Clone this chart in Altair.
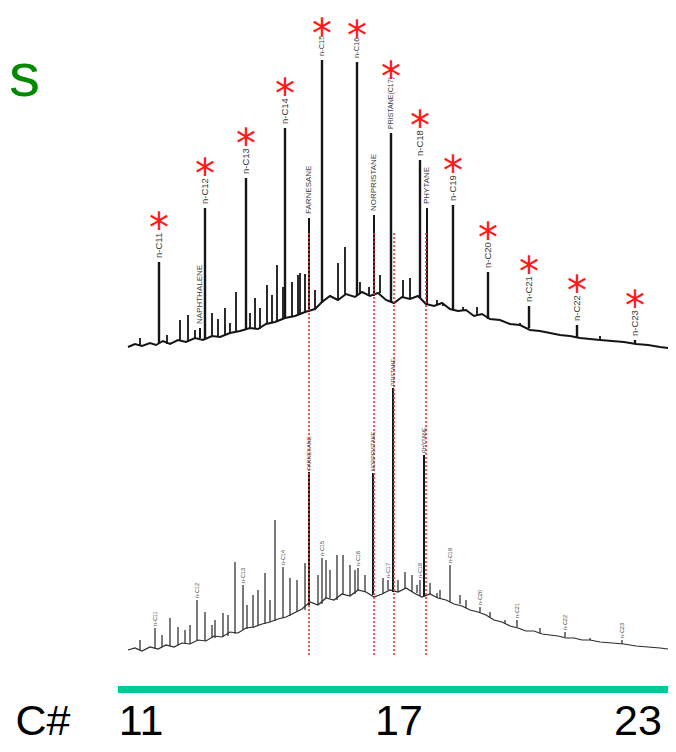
import altair as alt
import pandas as pd

# ---------------- data: retention time (min) and detector response (counts) ----------------
# upper chromatogram (fresh oil) - baseline/hump
top_base_rt = [12.0, 12.7, 13.4, 14.2, 14.8, 15.5, 16.2, 17.0, 17.8, 18.7, 19.5, 20.4, 21.2, 22.2,
               23.2, 24.2, 25.0, 25.8, 26.7, 27.7, 28.7, 29.7, 30.7, 31.4, 32.2, 33.0, 33.8, 34.7,
               35.4, 36.2, 37.0, 37.8, 38.6, 39.4, 40.2, 41.0, 41.8, 42.6, 43.4, 44.2, 45.0, 45.8,
               46.6, 47.4, 48.2, 49.2, 50.2, 51.2, 52.2, 53.2, 54.2, 55.2, 56.2, 57.2, 58.2, 59.2,
               60.4, 61.6, 62.8, 64.0, 65.2, 66.0]
top_base_resp = [397, 400, 398, 401, 399, 403, 400, 404, 402, 406, 404, 408, 407, 411,
                 413, 416, 415, 420, 422, 426, 428, 432, 435, 442, 448, 444, 450, 447,
                 452, 448, 451, 444, 441, 447, 445, 448, 440, 438, 441, 435, 433, 434,
                 428, 430, 425, 424, 420, 419, 414, 413, 411, 409, 408, 406, 405, 404,
                 403, 402, 400, 399, 397, 396]

# upper chromatogram - n-alkanes (starred)
top_alk_labels = ["n-C11", "n-C12", "n-C13", "n-C14", "n-C15", "n-C16", "PRISTANE(C17)",
                  "n-C18", "n-C19", "n-C20", "n-C21", "n-C22", "n-C23"]
top_alk_rt = [15.1, 19.7, 23.8, 27.7, 31.4, 34.9, 38.3, 41.2, 44.5, 48.0, 52.1, 56.9, 62.7]
top_alk_apex = [482, 536, 566, 616, 684, 682, 611, 584, 539, 472, 438, 419, 404]
top_alk_foot = [401, 405, 414, 426, 441, 448, 442, 446, 435, 425, 416, 406, 400]

# upper chromatogram - isoprenoids / aromatics
top_iso_labels = ["NAPHTHALENE", "FARNESANE", "NORPRISTANE", "PHYTANE"]
top_iso_rt = [19.2, 30.1, 36.6, 41.9]
top_iso_apex = [416, 526, 529, 536]
top_iso_foot = [406, 432, 448, 440]

# upper chromatogram - unlabelled peaks
top_minor_rt = [13.2, 15.9, 17.2, 18.0, 18.7, 20.4, 21.0, 21.7, 22.2, 22.8, 24.2, 24.7,
                25.2, 25.9, 26.4, 26.9, 27.5, 28.4, 29.0, 29.2, 29.7, 30.7, 33.0, 33.7,
                35.2, 36.1, 37.2, 39.5, 40.2, 42.9, 43.5, 45.5, 46.9, 51.2, 53.9, 59.2]
top_minor_apex = [406, 409, 424, 429, 414, 431, 425, 436, 421, 452, 431, 446,
                  436, 459, 449, 479, 457, 462, 469, 471, 470, 454, 481, 497,
                  462, 457, 469, 464, 466, 444, 440, 437, 437, 421, 412, 408]
top_minor_foot = [398, 400, 403, 402, 406, 408, 407, 409, 411, 412, 416, 416,
                  415, 420, 421, 422, 425, 427, 429, 430, 431, 435, 444, 450,
                  450, 448, 451, 447, 445, 440, 438, 433, 429, 419, 412, 404]

# lower chromatogram (weathered oil) - baseline/hump
bot_base_rt = [12.0, 12.7, 13.4, 14.2, 15.0, 15.8, 16.6, 17.4, 18.2, 19.0, 19.8, 20.6, 21.4,
               22.2, 23.0, 23.8, 24.6, 25.4, 26.2, 27.0, 27.8, 28.6, 29.4, 30.2, 31.0, 31.8,
               32.6, 33.4, 34.2, 35.0, 35.8, 36.6, 37.4, 38.2, 39.0, 39.8, 40.6, 41.4, 42.2,
               43.0, 43.8, 44.6, 45.4, 46.2, 47.0, 47.8, 48.6, 49.4, 50.2, 51.0, 51.8, 52.6,
               53.4, 54.2, 55.0, 55.8, 56.6, 57.4, 58.2, 59.2, 60.4, 61.6, 62.8, 64.0, 65.2, 66.0]
bot_base_resp = [94, 96, 93, 97, 95, 99, 97, 101, 100, 104, 103, 108, 107,
                 112, 111, 116, 117, 120, 122, 125, 127, 131, 135, 142, 139, 146,
                 144, 150, 148, 154, 152, 147, 150, 154, 152, 156, 151, 147, 150,
                 146, 144, 140, 138, 134, 132, 129, 124, 122, 118, 116, 113, 113,
                 110, 109, 108, 106, 106, 104, 104, 102, 101, 100, 98, 97, 96, 95]

# lower chromatogram - labelled n-alkanes
bot_alk_labels = ["n-C11", "n-C12", "n-C13", "n-C14", "n-C15", "n-C16", "n-C17",
                  "n-C18", "n-C19", "n-C20", "n-C21", "n-C22", "n-C23"]
bot_alk_rt = [14.7, 18.9, 23.5, 27.5, 31.4, 35.0, 38.0, 41.2, 44.2, 47.2, 50.9, 55.7, 61.4]
bot_alk_apex = [116, 144, 159, 177, 186, 176, 164, 164, 179, 137, 124, 112, 104]
bot_alk_foot = [96, 103, 114, 126, 140, 154, 154, 148, 142, 132, 117, 107, 100]

# lower chromatogram - isoprenoids
bot_iso_labels = ["FARNESANE", "NORPRISTANE", "PRISTANE", "PHYTANE"]
bot_iso_rt = [30.1, 36.5, 38.5, 41.6]
bot_iso_apex = [272, 271, 356, 289]
bot_iso_foot = [139, 149, 152, 148]

# lower chromatogram - unlabelled peaks
bot_minor_rt = [13.2, 15.4, 16.2, 17.0, 17.7, 18.2, 19.7, 20.4, 20.7, 21.5, 22.0, 22.7, 23.9,
                24.5, 25.0, 25.7, 26.2, 26.7, 28.2, 28.9, 29.7, 31.0, 31.8, 32.2, 32.9, 33.5,
                34.2, 34.7, 35.7, 37.5, 39.0, 39.7, 40.4, 40.9, 42.2, 42.9, 43.2, 45.2, 45.8,
                48.2, 49.7, 53.2, 58.2]
bot_minor_apex = [104, 109, 126, 117, 114, 119, 132, 119, 124, 131, 129, 182, 139,
                  149, 154, 171, 144, 224, 166, 164, 181, 169, 184, 174, 189, 189,
                  179, 174, 169, 166, 164, 172, 169, 159, 161, 151, 154, 149, 144,
                  132, 124, 116, 106]
bot_minor_foot = [94, 97, 98, 99, 100, 100, 103, 106, 106, 107, 108, 110, 115,
                  116, 118, 120, 122, 123, 128, 132, 134, 139, 146, 146, 144, 149,
                  148, 150, 152, 150, 152, 156, 152, 151, 150, 146, 146, 140, 136,
                  127, 121, 111, 104]

# red correlation markers (isoprenoids)
marker_rt = [30.1, 36.6, 38.6, 41.8]
marker_top = [511, 511, 511, 511]
marker_bottom = [89, 89, 89, 89]

# carbon-number scale bar and its labels
cn_bar_start, cn_bar_end = 11.0, 66.0
cn_bar_lo, cn_bar_hi = 51, 58
cn_labels = ["C#", "11", "17", "23"]
cn_rt = [3.5, 13.3, 39.1, 63.0]
cn_resp = [0, 0, 0, 0]

# title fragment at the top-left edge
title_text = ["s"]
title_rt = [0.0]
title_resp = [648]

# ---------------- chart ----------------
W, H = 660, 736
xs = alt.Scale(domain=[0, 66], nice=False, zero=False)
ys = alt.Scale(domain=[0, 736], nice=False, zero=False)


def X(f="rt"):
    return alt.X(f"{f}:Q", scale=xs, axis=None)


def Y(f):
    return alt.Y(f"{f}:Q", scale=ys, axis=None)


def peaks_df(rt, apex, foot, labels=None):
    d = pd.DataFrame({"rt": rt, "apex": apex, "foot": foot})
    if labels is not None:
        d["label"] = labels
    return d


INK = "#151515"
RED = "#e8332c"
LABEL_FONT = "Liberation Sans"

layers = []

# traces
top_base = pd.DataFrame({"rt": top_base_rt, "resp": top_base_resp})
bot_base = pd.DataFrame({"rt": bot_base_rt, "resp": bot_base_resp})
layers.append(alt.Chart(top_base).mark_line(color=INK, strokeWidth=2.0).encode(x=X(), y=Y("resp")))
layers.append(alt.Chart(bot_base).mark_line(color="#2a2a2a", strokeWidth=1.2).encode(x=X(), y=Y("resp")))

top_alk = peaks_df(top_alk_rt, top_alk_apex, top_alk_foot, top_alk_labels)
top_iso = peaks_df(top_iso_rt, top_iso_apex, top_iso_foot, top_iso_labels)
top_min = peaks_df(top_minor_rt, top_minor_apex, top_minor_foot)
bot_alk = peaks_df(bot_alk_rt, bot_alk_apex, bot_alk_foot, bot_alk_labels)
bot_iso = peaks_df(bot_iso_rt, bot_iso_apex, bot_iso_foot, bot_iso_labels)
bot_min = peaks_df(bot_minor_rt, bot_minor_apex, bot_minor_foot)

for df, w, c in [(top_min, 1.8, INK), (top_alk, 2.4, INK), (top_iso, 2.0, INK),
                 (bot_min, 1.3, "#333333"), (bot_alk, 1.3, "#333333"), (bot_iso, 2.0, INK)]:
    layers.append(alt.Chart(df).mark_rule(color=c, strokeWidth=w).encode(
        x=X(), y=Y("foot"), y2=alt.Y2("apex")))

# red dotted correlation lines
markers = pd.DataFrame({"rt": marker_rt, "top": marker_top, "bottom": marker_bottom})
layers.append(alt.Chart(markers).mark_rule(color=RED, strokeWidth=1.6, strokeDash=[2, 2]).encode(
    x=X(), y=Y("top"), y2=alt.Y2("bottom")))

# rotated peak labels (upper trace: label size groups)
label_groups = [
    ([l for l in top_alk_labels if l not in ("n-C15", "n-C16", "PRISTANE(C17)")], 9.5),
    (["n-C15", "n-C16"], 7.5),
    (["PRISTANE(C17)"], 7),
]
for names, fs in label_groups:
    sub = top_alk[top_alk["label"].isin(names)]
    layers.append(alt.Chart(sub).mark_text(angle=270, align="left", baseline="middle", dx=4,
                                           font=LABEL_FONT, fontSize=fs, color="#3a3a3a").encode(
        x=X(), y=Y("apex"), text="label:N"))
layers.append(alt.Chart(top_iso).mark_text(angle=270, align="left", baseline="middle", dx=4,
                                           font=LABEL_FONT, fontSize=8, color="#3a3a3a").encode(
    x=X(), y=Y("apex"), text="label:N"))
layers.append(alt.Chart(bot_alk).mark_text(angle=270, align="left", baseline="middle", dx=2,
                                           font=LABEL_FONT, fontSize=5.5, color="#444444").encode(
    x=X(), y=Y("apex"), text="label:N"))
layers.append(alt.Chart(bot_iso).mark_text(angle=270, align="left", baseline="middle", dx=2,
                                           font=LABEL_FONT, fontSize=5.5, color="#444444").encode(
    x=X(), y=Y("apex"), text="label:N"))

# red asterisks above the n-alkanes (lift depends on label length)
star_groups = [
    (["n-C15", "n-C16"], -36),
    (["PRISTANE(C17)"], -66),
    ([l for l in top_alk_labels if l not in ("n-C15", "n-C16", "PRISTANE(C17)")], -44),
]
for names, lift in star_groups:
    sub = top_alk[top_alk["label"].isin(names)]
    layers.append(alt.Chart(sub).mark_text(text="*", font="DejaVu Sans", fontSize=40, color="#ff1a1a",
                                           align="center", baseline="middle", dy=lift + 12).encode(
        x=X(), y=Y("apex")))

# carbon-number bar
bar = pd.DataFrame({"start": [cn_bar_start], "end": [cn_bar_end], "lo": [cn_bar_lo], "hi": [cn_bar_hi]})
layers.append(alt.Chart(bar).mark_rect(color="#00c896").encode(
    x=X("start"), x2=alt.X2("end"), y=Y("lo"), y2=alt.Y2("hi")))

cn = pd.DataFrame({"rt": cn_rt, "resp": cn_resp, "label": cn_labels})
layers.append(alt.Chart(cn).mark_text(font="Liberation Sans", fontSize=43, color="#000000",
                                      align="center", baseline="bottom").encode(
    x=X(), y=Y("resp"), text="label:N"))

title = pd.DataFrame({"rt": title_rt, "resp": title_resp, "label": title_text})
layers.append(alt.Chart(title).mark_text(font="Liberation Sans", fontSize=62, color="#008a00",
                                         align="left", baseline="alphabetic", dx=1).encode(
    x=X(), y=Y("resp"), text="label:N"))

chart = alt.layer(*layers).properties(
    width=W, height=H, padding=0, autosize=alt.AutoSizeParams(type="none"),
    background="white",
).configure_view(stroke=None)

chart.save("out.html", embed_options={"renderer": "svg", "actions": False})
